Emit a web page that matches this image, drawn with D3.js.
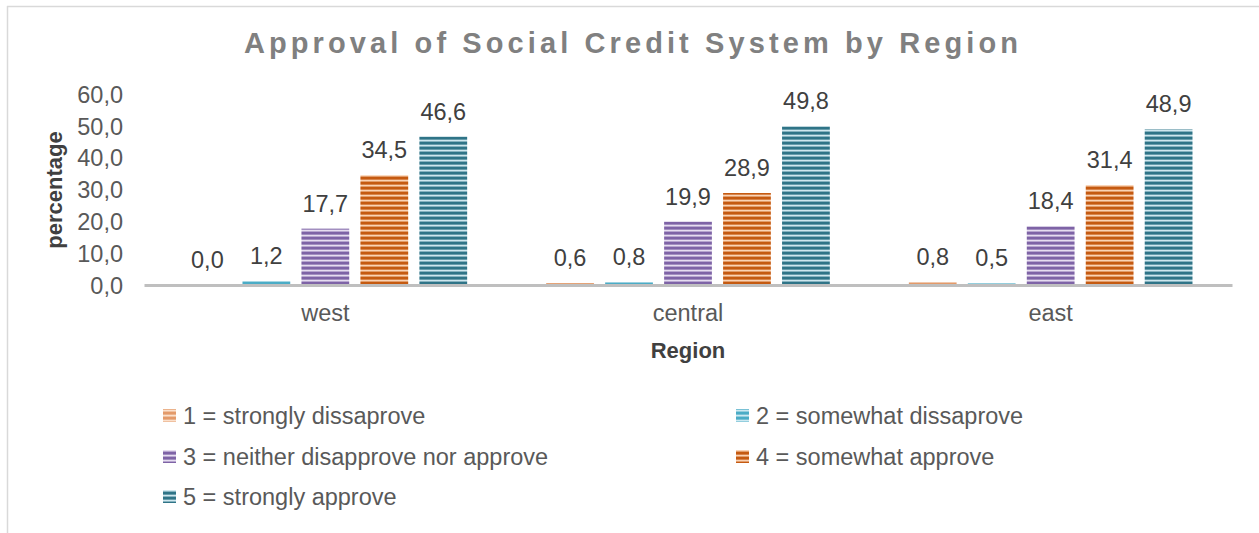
<!DOCTYPE html>
<html>
<head>
<meta charset="utf-8">
<script src="https://cdn.jsdelivr.net/npm/d3@7"></script>
<style>
  html, body { margin: 0; padding: 0; background: #fff; }
  svg { display: block; font-family: "Liberation Sans", Arial, sans-serif; }
</style>
</head>
<body>
<svg id="chart" width="1259" height="533"></svg>
<script>
// Regions along the x axis
const regions = ["west", "central", "east"];

// Response categories (legend entries)
const seriesNames = [
  "1 = strongly dissaprove",
  "2 = somewhat dissaprove",
  "3 = neither disapprove nor approve",
  "4 = somewhat approve",
  "5 = strongly approve"
];

// Percentages per category, one value per region (west, central, east)
const stronglyDisapprove = [0.0, 0.6, 0.8];
const somewhatDisapprove = [1.2, 0.8, 0.5];
const neitherNor         = [17.7, 19.9, 18.4];
const somewhatApprove    = [34.5, 28.9, 31.4];
const stronglyApprove    = [46.6, 49.8, 48.9];

const yTicks = [0, 10, 20, 30, 40, 50, 60];

const seriesValues = [stronglyDisapprove, somewhatDisapprove, neitherNor, somewhatApprove, stronglyApprove];

// Stripe colours: [dark, light]
const palette = [
  ["#E39A6A", "#FBE0CC"],
  ["#4BACC6", "#CDE9F1"],
  ["#7E63A6", "#E6DDF0"],
  ["#C55A11", "#FAD3B5"],
  ["#2F7487", "#CFE7EE"]
];

const FONT = 23.5;
const svg = d3.select("#chart");

// Frame lines (left and top)
svg.append("line").attr("x1", 7.5).attr("x2", 7.5).attr("y1", 6).attr("y2", 533)
  .attr("stroke", "#D9D9D9").attr("stroke-width", 1.5);
svg.append("line").attr("x1", 7).attr("x2", 1259).attr("y1", 6.5).attr("y2", 6.5)
  .attr("stroke", "#D9D9D9").attr("stroke-width", 1.5);

// Scales
const x0 = d3.scaleBand().domain(regions).range([144, 1232]).paddingInner(0).paddingOuter(0);
const x1 = d3.scaleBand().domain(d3.range(seriesNames.length))
  .range([0, x0.bandwidth()]).paddingInner(0.19).paddingOuter(0.67);
const y = d3.scaleLinear().domain([0, 60]).range([285, 94]);

// Horizontal stripe patterns, tiled up from the baseline
const defs = svg.append("defs");
palette.forEach((c, i) => {
  const p = defs.append("pattern").attr("id", "stripe" + i)
    .attr("patternUnits", "userSpaceOnUse").attr("width", 10).attr("height", 5)
    .attr("patternTransform", `translate(0,${y(0)})`);
  const mid = d3.interpolateRgb(c[0], c[1]);
  const rows = [c[1], mid(0.55), c[0], c[0], mid(0.35)];
  rows.forEach((col, r) => {
    p.append("rect").attr("x", 0).attr("y", r).attr("width", 10).attr("height", 1).attr("fill", col);
  });
});

// Title
svg.append("text").attr("x", 633).attr("y", 53).attr("text-anchor", "middle")
  .attr("font-size", 29).attr("font-weight", "bold").attr("fill", "#808080")
  .attr("letter-spacing", 4.1)
  .text("Approval of Social Credit System by Region");

// Y axis tick labels
const yAxis = d3.axisLeft(y).tickValues(yTicks).tickSize(0).tickPadding(0)
  .tickFormat(d => d3.format(".1f")(d).replace(".", ","));
const yg = svg.append("g").attr("transform", "translate(123,0)").call(yAxis);
yg.select(".domain").remove();
yg.selectAll("text").attr("font-size", FONT).attr("fill", "#595959")
  .attr("font-family", "\"Liberation Sans\", Arial, sans-serif").attr("dy", "0.35em");

// Y axis title
svg.append("text").attr("transform", "translate(62,190) rotate(-90)")
  .attr("text-anchor", "middle").attr("font-size", 22).attr("font-weight", "bold")
  .attr("fill", "#404040").text("percentage");

// Bars
const groups = svg.append("g").selectAll("g").data(regions).join("g")
  .attr("transform", d => `translate(${x0(d)},0)`);

groups.each(function (region, ri) {
  const g = d3.select(this);
  seriesValues.forEach((vals, si) => {
    const v = vals[ri];
    g.append("rect")
      .attr("x", x1(si)).attr("width", x1.bandwidth())
      .attr("y", y(v)).attr("height", y(0) - y(v))
      .attr("fill", `url(#stripe${si})`);
    g.append("text")
      .attr("x", x1(si) + x1.bandwidth() / 2).attr("y", y(v) - 17)
      .attr("text-anchor", "middle").attr("font-size", FONT).attr("fill", "#404040")
      .text(d3.format(".1f")(v).replace(".", ","));
  });
});

// X axis line and labels
const xAxis = d3.axisBottom(x0).tickSize(0).tickPadding(0);
const xg = svg.append("g").attr("transform", `translate(0,${y(0)})`).call(xAxis);
xg.select(".domain").attr("stroke", "#BFBFBF").attr("stroke-width", 3);
xg.selectAll("text").attr("font-size", FONT).attr("fill", "#595959")
  .attr("font-family", "\"Liberation Sans\", Arial, sans-serif")
  .attr("y", 36).attr("dy", 0);

svg.append("text").attr("x", 688).attr("y", 358).attr("text-anchor", "middle")
  .attr("font-size", 22).attr("font-weight", "bold").attr("fill", "#404040").text("Region");

// Legend (two columns)
const legendPos = [[163, 416], [736, 416], [163, 457], [736, 457], [163, 497]];
seriesNames.forEach((name, i) => {
  const [lx, ly] = legendPos[i];
  svg.append("rect").attr("x", lx).attr("y", ly - 7).attr("width", 13).attr("height", 13)
    .attr("fill", `url(#stripe${i})`);
  svg.append("text").attr("x", lx + 20).attr("y", ly).attr("dy", "0.35em")
    .attr("font-size", FONT).attr("fill", "#595959").text(name);
});
</script>
</body>
</html>
